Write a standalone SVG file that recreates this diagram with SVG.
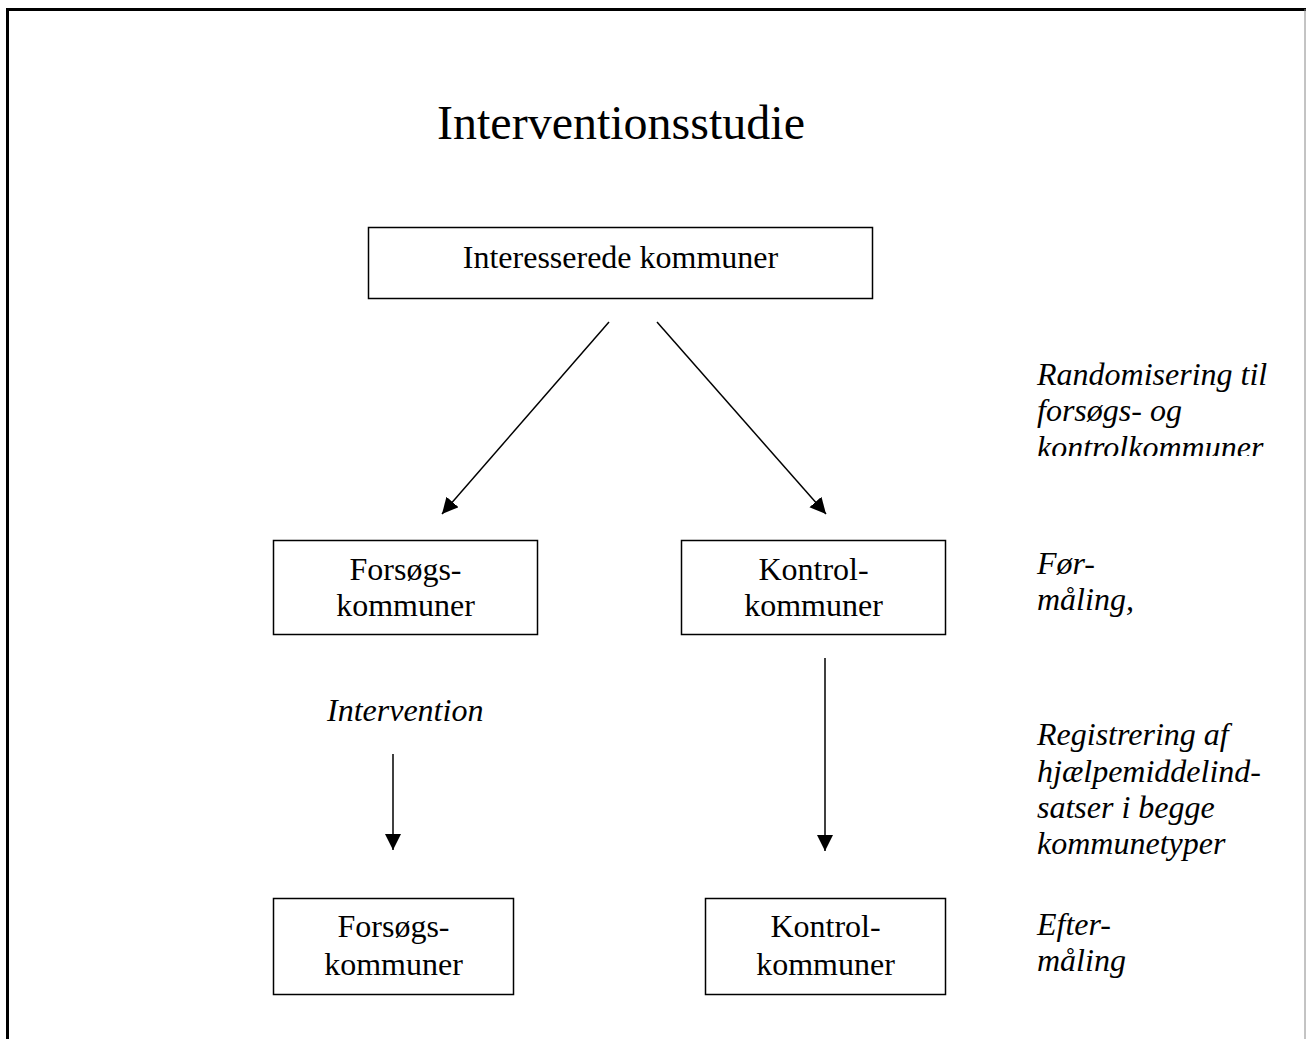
<svg xmlns="http://www.w3.org/2000/svg" width="1306" height="1039" viewBox="0 0 1306 1039">
<style>
.box{fill:#fff;stroke:#000;stroke-width:1.5}
.t{font-family:"Liberation Serif","Times New Roman",serif;fill:#000}
.n{font-size:32px;text-anchor:middle}
.i{font-size:32px;font-style:italic}
.c{stroke:#000;stroke-width:1.5;fill:none}
</style>
<defs>
<marker id="ah" markerUnits="userSpaceOnUse" markerWidth="17" markerHeight="17" refX="16" refY="8" orient="auto">
<path d="M0,0 L16,8 L0,16 z" fill="#000"/>
</marker>
<clipPath id="clipR"><rect x="1000" y="340" width="300" height="116"/></clipPath>
</defs>
<rect width="1306" height="1039" fill="#fff"/>
<g id="frame">
<path d="M7.5,1039 V9.5 H1306" fill="none" stroke="#000" stroke-width="3"/>
<line x1="1305" y1="9" x2="1305" y2="1039" stroke="#888" stroke-width="1"/>
</g>
<text id="title" class="t" x="621" y="139" font-size="48" text-anchor="middle">Interventionsstudie</text>
<g id="connectors">
<line class="c" x1="609" y1="322" x2="442" y2="514" marker-end="url(#ah)"/>
<line class="c" x1="657" y1="322" x2="826" y2="514" marker-end="url(#ah)"/>
<line class="c" x1="393" y1="754" x2="393" y2="850" marker-end="url(#ah)"/>
<line class="c" x1="825" y1="658" x2="825" y2="851" marker-end="url(#ah)"/>
</g>
<g id="n_interesserede">
<rect class="box" x="368.5" y="227.5" width="504" height="71"/>
<text class="t n" x="620.5" y="268">Interesserede kommuner</text>
</g>
<g id="n_forsog1">
<rect class="box" x="273.5" y="540.5" width="264" height="94"/>
<text class="t n" x="405.5" y="580">Forsøgs-</text>
<text class="t n" x="405.5" y="616">kommuner</text>
</g>
<g id="n_kontrol1">
<rect class="box" x="681.5" y="540.5" width="264" height="94"/>
<text class="t n" x="813.5" y="580">Kontrol-</text>
<text class="t n" x="813.5" y="616">kommuner</text>
</g>
<g id="n_forsog2">
<rect class="box" x="273.5" y="898.5" width="240" height="96"/>
<text class="t n" x="393.5" y="937">Forsøgs-</text>
<text class="t n" x="393.5" y="975">kommuner</text>
</g>
<g id="n_kontrol2">
<rect class="box" x="705.5" y="898.5" width="240" height="96"/>
<text class="t n" x="825.5" y="937">Kontrol-</text>
<text class="t n" x="825.5" y="975">kommuner</text>
</g>
<g id="labels">
<text class="t i" x="327" y="721">Intervention</text>
<g clip-path="url(#clipR)">
<text class="t i" x="1037" y="385">Randomisering til</text>
<text class="t i" x="1037" y="421">forsøgs- og</text>
<text class="t i" x="1037" y="458">kontrolkommuner</text>
</g>
<text class="t i" x="1037" y="574">Før-</text>
<text class="t i" x="1037" y="610">måling,</text>
<text class="t i" x="1037" y="745">Registrering af</text>
<text class="t i" x="1037" y="782">hjælpemiddelind-</text>
<text class="t i" x="1037" y="818">satser i begge</text>
<text class="t i" x="1037" y="854">kommunetyper</text>
<text class="t i" x="1037" y="935">Efter-</text>
<text class="t i" x="1037" y="971">måling</text>
</g>
</svg>
